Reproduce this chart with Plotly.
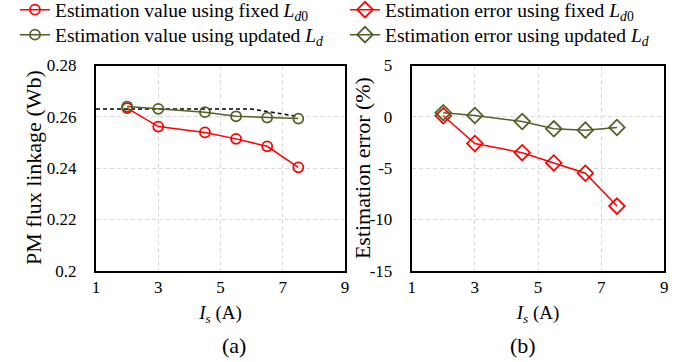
import plotly.graph_objects as go

current = [2, 3, 4.5, 5.5, 6.5, 7.5]
flux_fixed = [0.2634, 0.2562, 0.2539, 0.2514, 0.2485, 0.2403]
flux_updated = [0.2640, 0.2631, 0.2618, 0.2602, 0.2597, 0.2593]
ref_current = [1, 2, 3, 4.5, 5.5, 6, 6.5, 7.5]
flux_ref = [0.263, 0.263, 0.263, 0.263, 0.263, 0.263, 0.2621, 0.2601]
err_fixed = [0.1, -2.6, -3.5, -4.5, -5.5, -8.7]
err_updated = [0.4, 0.13, -0.46, -1.17, -1.3, -1.04]

x_ticks = [1, 3, 5, 7, 9]
flux_ticks = [0.2, 0.22, 0.24, 0.26, 0.28]
flux_ticktext = ["0.2", "0.22", "0.24", "0.26", "0.28"]
err_ticks = [-15, -10, -5, 0, 5]
err_ticktext = ["-15", "-10", "-5", "0", "5"]

RED = "#FF0000"
GREEN = "#4F6228"
FONT = "Liberation Serif, Times New Roman, serif"

fig = go.Figure()
fig.add_trace(go.Scatter(x=ref_current, y=flux_ref, mode="lines", showlegend=False,
                         line=dict(color="black", width=1.5, dash="4px,3px"), xaxis="x", yaxis="y"))
fig.add_trace(go.Scatter(x=current, y=flux_fixed, mode="lines+markers", legend="legend",
                         name="Estimation value using fixed <i>L</i><sub><i>d</i>0</sub>",
                         line=dict(color=RED, width=1.5),
                         marker=dict(symbol="circle-open", size=10, color=RED, line=dict(width=1.8)),
                         xaxis="x", yaxis="y"))
fig.add_trace(go.Scatter(x=current, y=err_fixed, mode="lines+markers", legend="legend",
                         name="Estimation error using fixed <i>L</i><sub><i>d</i>0</sub>",
                         line=dict(color=RED, width=1.5),
                         marker=dict(symbol="diamond-open", size=12, color=RED, line=dict(width=1.8)),
                         xaxis="x2", yaxis="y2"))
fig.add_trace(go.Scatter(x=current, y=flux_updated, mode="lines+markers", legend="legend2",
                         name="Estimation value using updated <i>L</i><sub><i>d</i></sub>",
                         line=dict(color=GREEN, width=1.5),
                         marker=dict(symbol="circle-open", size=10, color=GREEN, line=dict(width=1.8)),
                         xaxis="x", yaxis="y"))
fig.add_trace(go.Scatter(x=current, y=err_updated, mode="lines+markers", legend="legend2",
                         name="Estimation error using updated <i>L</i><sub><i>d</i></sub>",
                         line=dict(color=GREEN, width=1.5),
                         marker=dict(symbol="diamond-open", size=12, color=GREEN, line=dict(width=1.8)),
                         xaxis="x2", yaxis="y2"))

tick_font = dict(family=FONT, size=17, color="black")
ytitle_font = dict(family=FONT, size=22, color="black")
xtitle_font = dict(family=FONT, size=19, color="black")
legend_font = dict(family=FONT, size=19.5, color="black")
axis_common = dict(showline=True, linecolor="black", linewidth=2, mirror=True,
                   showgrid=True, gridcolor="#D9D9D9", griddash="4px,3px", gridwidth=1,
                   zeroline=False, ticks="", tickfont=tick_font, automargin=False)

xtitle = dict(text="<i>I</i><sub><i>s</i></sub> (A)", font=xtitle_font, standoff=10)

plot_top = 65.5
plot_bottom = 270.7
ymid = 1 - (plot_top + plot_bottom) / 2 / 362

legend_common = dict(orientation="h", x=15/684, xanchor="left", yanchor="middle",
                     entrywidth=285, entrywidthmode="pixels", font=legend_font,
                     bgcolor="rgba(0,0,0,0)", itemwidth=30)

fig.update_layout(
    width=684, height=362, margin=dict(l=0, r=0, t=0, b=0, autoexpand=False),
    paper_bgcolor="white", plot_bgcolor="white",
    font=tick_font,
    xaxis=dict(domain=[96/684, 345/684], range=[1, 9], tickvals=x_ticks,
               anchor="y", title=xtitle, ticklabelstandoff=0, **axis_common),
    yaxis=dict(domain=[1-plot_bottom/362, 1-plot_top/362], range=[0.2, 0.28],
               tickvals=flux_ticks, ticktext=flux_ticktext,
               anchor="x", ticklabelstandoff=14, **axis_common),
    xaxis2=dict(domain=[411.7/684, 664.3/684], range=[1, 9], tickvals=x_ticks,
                anchor="y2", title=xtitle, ticklabelstandoff=0, **axis_common),
    yaxis2=dict(domain=[1-plot_bottom/362, 1-plot_top/362], range=[-15, 5], tickvals=err_ticks,
                ticktext=err_ticktext,
                anchor="x2", ticklabelstandoff=14, **axis_common),
    legend=dict(y=1-10/362, **legend_common),
    legend2=dict(y=1-35/362, **legend_common),
    annotations=[
        dict(text="PM flux linkage (Wb)", textangle=-90, x=33/684, y=ymid, xref="paper", yref="paper",
             showarrow=False, xanchor="center", yanchor="middle", font=ytitle_font),
        dict(text="Estimation error (%)", textangle=-90, x=362/684, y=ymid, xref="paper", yref="paper",
             showarrow=False, xanchor="center", yanchor="middle", font=ytitle_font),
        dict(text="(a)", x=220/684, y=1-345/362, xref="paper", yref="paper", showarrow=False,
             yanchor="middle", font=dict(family=FONT, size=22, color="black")),
        dict(text="(b)", x=538/684, y=1-345/362, xref="paper", yref="paper", showarrow=False,
             yanchor="middle", font=dict(family=FONT, size=22, color="black")),
    ],
)

fig.write_html("out.html")
